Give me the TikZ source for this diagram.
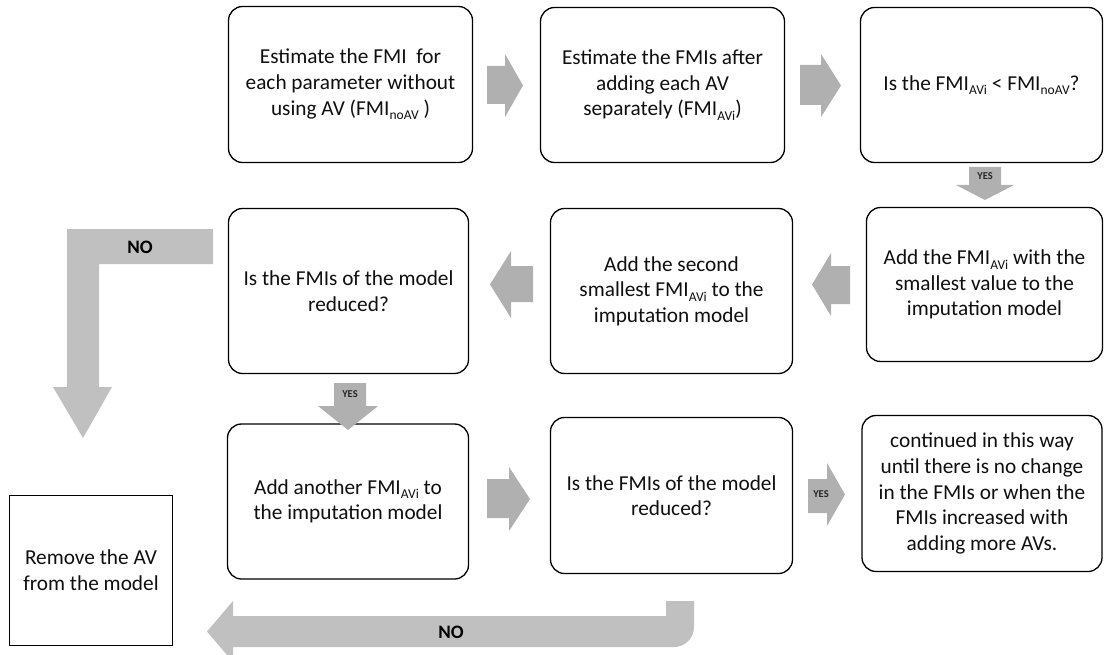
\documentclass[tikz,border=0pt]{standalone}
\usepackage{fontspec}
\setmainfont{Carlito}
\definecolor{bigarrow}{RGB}{192,192,192}
\definecolor{smallarrow}{RGB}{176,176,176}
\definecolor{inkcol}{RGB}{15,15,15}
\newcommand\boxfont{\fontsize{21.3bp}{25.6bp}\selectfont}
\newcommand\yesfont{\fontsize{10.5bp}{10.5bp}\selectfont\bfseries}
\newcommand\nofont{\fontsize{19bp}{19bp}\selectfont\bfseries}
\newcommand\sbs[1]{\raisebox{-0.45ex}{\fontsize{13.5bp}{13.5bp}\selectfont #1}}
\tikzset{
  box/.style={draw=black, line width=1.3bp, rounded corners=14bp, align=center,
    font=\boxfont, text=inkcol, inner sep=0pt},
  plainbox/.style={draw=black, line width=1bp, align=center, font=\boxfont,
    text=inkcol, inner sep=0pt},
  bigblock/.style={fill=bigarrow, draw=none},
  smallblock/.style={fill=smallarrow, draw=none},
  yeslabel/.style={font=\yesfont, text=black!85, inner sep=0pt},
  nolabel/.style={font=\nofont, text=black, inner sep=0pt}
}
\begin{document}
\begin{tikzpicture}[x=1bp, y=-1bp]
\useasboundingbox (0,0) rectangle (1104,655);
\clip (0,0) rectangle (1104,655);

% row 1
\node[box, minimum width=244bp, minimum height=156bp] (b1) at (350.5,84.5)
  {Estimate the FMI\ \ for\\each parameter without\\using AV (FMI\sbs{noAV}\ )};
\node[box, minimum width=244bp, minimum height=155bp] (b2) at (662.5,85)
  {Estimate the FMIs after\\adding each AV\\separately (FMI\sbs{AVi})};
\node[box, minimum width=242bp, minimum height=155bp] (b3) at (981.5,85)
  {Is the FMI\sbs{AVi} < FMI\sbs{noAV}?};

% row 2
\node[box, minimum width=236bp, minimum height=154bp] (r2c3) at (984.5,284.5)
  {Add the FMI\sbs{AVi} with the\\smallest value to the\\imputation model};
\node[box, minimum width=242bp, minimum height=165bp] (r2c2) at (671.5,291)
  {Add the second\\smallest FMI\sbs{AVi} to the\\imputation model};
\node[box, minimum width=240bp, minimum height=165bp] (r2c1) at (348.5,291)
  {Is the FMIs of the model\\reduced?};

% row 3
\node[box, minimum width=241bp, minimum height=155bp] (r3c1) at (348,501.5)
  {Add another FMI\sbs{AVi} to\\the imputation model};
\node[box, minimum width=242bp, minimum height=156bp] (r3c2) at (671.5,495.5)
  {Is the FMIs of the model\\reduced?};
\node[box, minimum width=240bp, minimum height=156bp] (r3c3) at (982,493.5)
  {continued in this way\\until there is no change\\in the FMIs or when the\\FMIs increased with\\adding more AVs.};

\node[plainbox, minimum width=162bp, minimum height=150bp] (rem) at (91,570)
  {Remove the AV\\from the model};

% block arrows
\fill[smallblock] (487,66) -- (505,66) -- (505,54) -- (523,85.5) -- (505,117) -- (505,104) -- (487,104) -- cycle;
\fill[smallblock] (800,65) -- (821,65) -- (821,54) -- (841,85.5) -- (821,117) -- (821,105) -- (800,105) -- cycle;
\fill[smallblock] (969,167) -- (1001,167) -- (1001,185) -- (1014,185) -- (985,200) -- (956,185) -- (969,185) -- cycle;
\node[yeslabel] (yes1) at (985,176.5) {YES};
\fill[smallblock] (850,266) -- (831,266) -- (831,253) -- (812,284.5) -- (831,316) -- (831,304) -- (850,304) -- cycle;
\fill[smallblock] (533,266) -- (511,266) -- (511,251) -- (490,284.5) -- (511,318) -- (511,302) -- (533,302) -- cycle;
\fill[smallblock] (334,383) -- (366,383) -- (366,406) -- (378,406) -- (348,430) -- (318,406) -- (334,406) -- cycle;
\node[yeslabel] (yes2) at (350,394) {YES};
\fill[smallblock] (487,479) -- (509,479) -- (509,467) -- (530,499) -- (509,531) -- (509,518) -- (487,518) -- cycle;
\fill[smallblock] (808,479) -- (827,479) -- (827,463) -- (845,494.5) -- (827,526) -- (827,513) -- (808,513) -- cycle;
\node[yeslabel] (yes3) at (821,494.5) {YES};

% NO arrows
\fill[bigblock] (213,229) -- (67,229) -- (67,387) -- (53,387) -- (83,438) -- (112,387) -- (99,387) -- (99,264) -- (213,264) -- cycle;
\node[nolabel] (no1) at (140,247) {NO};
\fill[bigblock] (233,601) -- (207,631.5) -- (233,662) -- (233,647) -- (674,647)
  arc[start angle=90, end angle=0, radius=20] -- (694,601) -- (666,601) -- (666,616) -- (233,616) -- cycle;
\node[nolabel] (no2) at (451,632) {NO};
\end{tikzpicture}
\end{document}
